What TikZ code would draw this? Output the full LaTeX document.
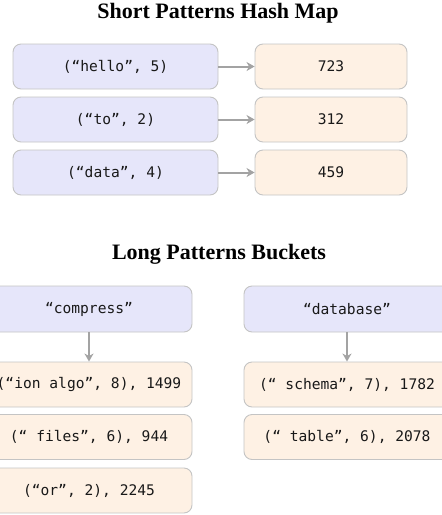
\documentclass[tikz,border=0pt]{standalone}
\usepackage{fontspec}
\setmainfont{Liberation Serif}
\newfontfamily\boxmono{DejaVu Sans Mono}
\usetikzlibrary{arrows.meta}
\definecolor{bluefill}{HTML}{E6E6FA}
\definecolor{orangefill}{HTML}{FEF1E4}
\definecolor{boxline}{HTML}{C4C4C4}
\definecolor{arrowgray}{HTML}{A3A3A3}
\tikzset{
  basebox/.style={draw=boxline, line width=0.9pt, rounded corners=8pt, inner sep=0pt,
    font=\boxmono\fontsize{14.6}{17}\selectfont, text=black!90},
  keybox/.style={basebox, fill=bluefill},
  valbox/.style={basebox, fill=orangefill},
  conn/.style={draw=arrowgray, line width=2pt, -{Stealth[length=8pt,width=9pt,inset=2.5pt]}},
  heading/.style={font=\bfseries\fontsize{22}{24}\selectfont}
}
\begin{document}
\begin{tikzpicture}[x=1pt,y=-1pt]
\useasboundingbox (0,0) rectangle (442,515);
\clip (0,0) rectangle (442,515);
\node[heading] (t1) at (218,13) {Short Patterns Hash Map};
\node[keybox, minimum width=205pt, minimum height=45pt] (k1) at (115.5,66.5) {(“hello”, 5)};
\node[keybox, minimum width=205pt, minimum height=45pt] (k2) at (115.5,119.5) {(“to”, 2)};
\node[keybox, minimum width=205pt, minimum height=45pt] (k3) at (115.5,172.5) {(“data”, 4)};
\node[valbox, minimum width=152pt, minimum height=45pt] (v1) at (331,66.5) {723};
\node[valbox, minimum width=152pt, minimum height=45pt] (v2) at (331,119.5) {312};
\node[valbox, minimum width=152pt, minimum height=45pt] (v3) at (331,172.5) {459};
\draw[conn] (k1.east) -- (v1.west);
\draw[conn] (k2.east) -- (v2.west);
\draw[conn] (k3.east) -- (v3.west);

\node[heading] (t2) at (219,254) {Long Patterns Buckets};
\node[keybox, minimum width=206pt, minimum height=46pt] (b1) at (89,309) {“compress”};
\node[keybox, minimum width=206pt, minimum height=46pt] (b2) at (347,309) {“database”};
\node[valbox, minimum width=206pt, minimum height=45pt] (e1) at (89,384.5) {(“ion algo”, 8), 1499};
\node[valbox, minimum width=206pt, minimum height=45pt] (e2) at (89,437) {(“ files”, 6), 944};
\node[valbox, minimum width=206pt, minimum height=45pt] (e3) at (89,490.5) {(“or”, 2), 2245};
\node[valbox, minimum width=206pt, minimum height=45pt] (f1) at (347,384.5) {(“ schema”, 7), 1782};
\node[valbox, minimum width=206pt, minimum height=45pt] (f2) at (347,437) {(“ table”, 6), 2078};
\draw[conn] (b1.south) -- (e1.north);
\draw[conn] (b2.south) -- (f1.north);
\end{tikzpicture}
\end{document}
